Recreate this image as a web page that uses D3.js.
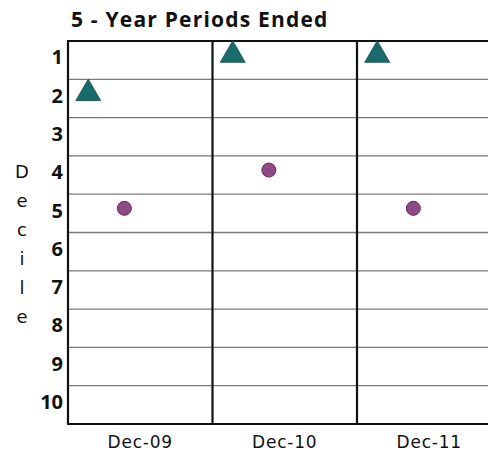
<!DOCTYPE html>
<html>
<head>
<meta charset="utf-8">
<script src="https://cdn.jsdelivr.net/npm/d3@7"></script>
<style>
  body { margin: 0; background: #fff; }
  svg { display: block; font-family: "Open Sans", sans-serif; }
</style>
</head>
<body>
<script>
// periods shown on the x axis
var periods = ["Dec-09", "Dec-10", "Dec-11"];
// decile ranks per period
var triangleDecile = [2, 1, 1];
var circleDecile = [5, 4, 5];
var deciles = [1, 2, 3, 4, 5, 6, 7, 8, 9, 10];
var yLabel = "Decile";
var title = "5 - Year Periods Ended";

var width = 488, height = 454;
var margin = { top: 41, left: 68, bottom: 30 };
var panelW = 144.5;
var plotH = 424 - margin.top;

var svg = d3.select("body").append("svg")
  .attr("width", width)
  .attr("height", height);

var x = d3.scaleBand()
  .domain(periods)
  .range([margin.left, margin.left + panelW * periods.length]);

// position of each marker type inside a panel
var inner = d3.scalePoint()
  .domain(["tri", "dot"])
  .range([0.14, 0.39]);

var y = d3.scaleLinear()
  .domain([0.5, 10.5])
  .range([margin.top, margin.top + plotH]);

// gridlines between deciles
svg.append("g")
  .selectAll("line")
  .data(deciles.slice(0, 9))
  .join("line")
  .attr("x1", margin.left)
  .attr("x2", width)
  .attr("y1", d => y(d + 0.5))
  .attr("y2", d => y(d + 0.5))
  .attr("stroke", "#7a7a7a")
  .attr("stroke-width", 1.3);

// panel borders
svg.append("g")
  .selectAll("line")
  .data(periods)
  .join("line")
  .attr("x1", d => x(d))
  .attr("x2", d => x(d))
  .attr("y1", margin.top)
  .attr("y2", margin.top + plotH)
  .attr("stroke", "#111")
  .attr("stroke-width", 2.2);

svg.append("line")
  .attr("x1", margin.left - 1).attr("x2", width)
  .attr("y1", margin.top).attr("y2", margin.top)
  .attr("stroke", "#111").attr("stroke-width", 2.2);
svg.append("line")
  .attr("x1", margin.left - 1).attr("x2", width)
  .attr("y1", margin.top + plotH).attr("y2", margin.top + plotH)
  .attr("stroke", "#111").attr("stroke-width", 2.2);

// y tick labels
svg.append("g")
  .selectAll("text")
  .data(deciles)
  .join("text")
  .attr("x", margin.left - 5)
  .attr("y", d => y(d) - 3)
  .attr("dy", "0.36em")
  .attr("text-anchor", "end")
  .attr("font-size", 20)
  .attr("font-weight", "bold")
  .attr("fill", "#111")
  .text(d => d);

// x labels
svg.append("g")
  .selectAll("text")
  .data(periods)
  .join("text")
  .attr("x", d => x(d) + x.bandwidth() / 2)
  .attr("y", 448)
  .attr("text-anchor", "middle")
  .attr("font-family", "DejaVu Sans, sans-serif")
  .attr("font-size", 17)
  .attr("letter-spacing", 0.8)
  .attr("fill", "#111")
  .text(d => d);

// stacked axis title
svg.append("g")
  .selectAll("text")
  .data(yLabel.split(""))
  .join("text")
  .attr("x", 22)
  .attr("y", (d, i) => 178 + i * 29)
  .attr("text-anchor", "middle")
  .attr("font-family", "DejaVu Sans, sans-serif")
  .attr("font-size", 18)
  .attr("fill", "#111")
  .text(d => d);

svg.append("text")
  .attr("x", 71)
  .attr("y", 27)
  .attr("font-size", 21)
  .attr("font-weight", "bold")
  .attr("letter-spacing", 1.2)
  .attr("fill", "#111")
  .text(title);

// markers
var tri = d3.symbol().type(d3.symbolTriangle).size(270);
svg.append("g")
  .selectAll("path")
  .data(periods)
  .join("path")
  .attr("d", tri)
  .attr("transform", (d, i) =>
    "translate(" + (x(d) + inner("tri") * x.bandwidth()) + "," + (y(triangleDecile[i]) - 5) + ")")
  .attr("fill", "#196a6b")
  .attr("stroke", "#10504f")
  .attr("stroke-width", 0.8);

svg.append("g")
  .selectAll("circle")
  .data(periods)
  .join("circle")
  .attr("cx", d => x(d) + inner("dot") * x.bandwidth())
  .attr("cy", (d, i) => y(circleDecile[i]) - 5)
  .attr("r", 7)
  .attr("fill", "#8d4a86")
  .attr("stroke", "#5e2c58")
  .attr("stroke-width", 1);
</script>
</body>
</html>
